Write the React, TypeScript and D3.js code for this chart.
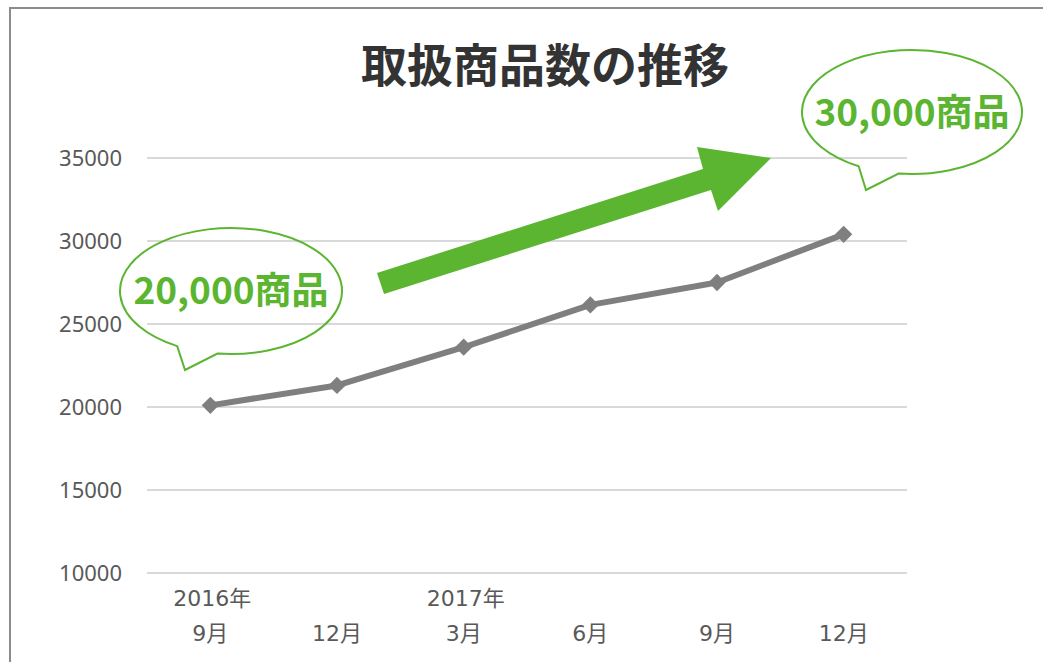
import React from 'react';
import * as d3 from 'd3';

// data
const months = ['9月', '12月', '3月', '6月', '9月', '12月'];
const years = ['2016年', '', '2017年', '', '', ''];
const itemCounts = [20100, 21300, 23600, 26150, 27500, 30400];
const yTicks = [10000, 15000, 20000, 25000, 30000, 35000];

const title = '取扱商品数の推移';
const leftNote = '20,000商品';
const rightNote = '30,000商品';

const W = 1043;
const H = 662;
const plot = { left: 147, right: 907, top: 158, bottom: 573 };

const GREEN = '#5bb531';
const GRAY_TEXT = '#595959';
const JP = '"Noto Sans CJK JP", "Noto Sans", sans-serif';
const LABEL_FONT = '"DejaVu Sans", "Noto Sans CJK JP", sans-serif';

// speech bubble: ellipse arc from angle a1 round to a2 (degrees), then to the tail tip
function bubblePath(cx: number, cy: number, rx: number, ry: number, a1: number, a2: number, tip: [number, number]) {
  const r = (a: number) => (a * Math.PI) / 180;
  const x1 = cx + rx * Math.cos(r(a1));
  const y1 = cy + ry * Math.sin(r(a1));
  const x2 = cx + rx * Math.cos(r(a2));
  const y2 = cy + ry * Math.sin(r(a2));
  return `M${x1},${y1} A${rx},${ry} 0 1 1 ${x2},${y2} L${tip[0]},${tip[1]} Z`;
}

export default function App() {
  const x = d3.scaleBand<number>()
    .domain(months.map((_, i) => i))
    .range([plot.left, plot.right])
    .paddingInner(0);
  const cx = (i: number) => (x(i) as number) + x.bandwidth() / 2;

  const y = d3.scaleLinear().domain([10000, 35000]).range([plot.bottom, plot.top]);

  const line = d3.line<number>()
    .x((_, i) => cx(i))
    .y(d => y(d));

  const diamond = d3.symbol().type(d3.symbolDiamond2).size(190)();

  // big trend arrow (annotation)
  const arrow: [number, number][] = [
    [384, 294], [377, 273], [703, 169], [697, 147], [771, 158], [718, 211], [711, 190],
  ];

  return (
    <div style={{ position: 'absolute', left: 0, top: 0 }}>
      <svg width={W} height={H} style={{ display: 'block', background: '#fff' }}>
        {/* chart frame */}
        <path d={`M10,${H} L10,8 L${W},8`} fill="none" stroke="#8c8c8c" strokeWidth={2} />

        <text x={545} y={82} textAnchor="middle" fontFamily={JP} fontWeight={700}
          fontSize={46} fill="#333333">{title}</text>

        {/* gridlines + y labels */}
        {yTicks.map(t => (
          <g key={t}>
            <line x1={plot.left} x2={plot.right} y1={y(t)} y2={y(t)} stroke="#d9d9d9" strokeWidth={2} />
            <text x={122} y={y(t)} dy="0.36em" textAnchor="end" fontFamily='"Noto Sans", sans-serif'
              fontSize={22} fill={GRAY_TEXT}>{t}</text>
          </g>
        ))}

        {/* x labels */}
        {months.map((m, i) => (
          <g key={i} fontFamily={LABEL_FONT} fontSize={22} fill={GRAY_TEXT} textAnchor="middle">
            {years[i] && <text x={cx(i) + 2} y={606}>{years[i]}</text>}
            <text x={cx(i)} y={641}>{m}</text>
          </g>
        ))}

        {/* series */}
        <path d={line(itemCounts) || ''} fill="none" stroke="#7f7f7f" strokeWidth={6} strokeLinejoin="round" />
        {itemCounts.map((v, i) => (
          <path key={i} d={diamond || ''} transform={`translate(${cx(i)},${y(v)})`} fill="#7f7f7f" />
        ))}

        {/* annotations */}
        <polygon points={arrow.map(p => p.join(',')).join(' ')} fill={GREEN} />

        <path d={bubblePath(231, 291, 111, 63, 119, 97, [185, 370])} fill="none" stroke={GREEN} strokeWidth={2} />
        <text x={231} y={291} dy="0.36em" textAnchor="middle" fontFamily={JP} fontWeight={700}
          fontSize={37} fill={GREEN}>{leftNote}</text>

        <path d={bubblePath(912, 112, 110, 62, 119, 97, [866, 190])} fill="none" stroke={GREEN} strokeWidth={2} />
        <text x={912} y={113} dy="0.36em" textAnchor="middle" fontFamily={JP} fontWeight={700}
          fontSize={37} fill={GREEN}>{rightNote}</text>
      </svg>
    </div>
  );
}
